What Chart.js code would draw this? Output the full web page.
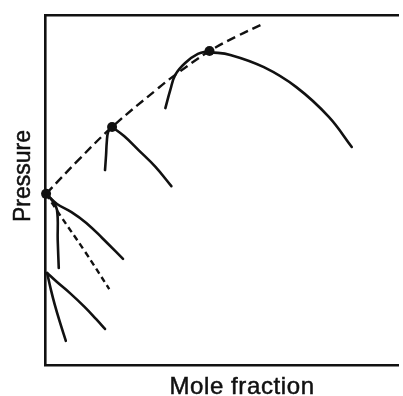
<!DOCTYPE html>
<html>
<head>
<meta charset="utf-8">
<script src="https://cdn.jsdelivr.net/npm/chart.js@4/dist/chart.umd.min.js"></script>
<style>
  html, body { margin: 0; padding: 0; background: #fff; overflow: hidden; }
  #wrap { width: 403px; height: 396px; position: relative; }
</style>
</head>
<body>
<div id="wrap"><canvas id="chart"></canvas></div>
<script>
// Axis titles
const xTitle = 'Mole fraction';
const yTitle = 'Pressure';

// Critical locus (dashed), upper part through the three critical points
const locusUpperX = [0.3, 9.5, 19.0, 32.1, 36.9, 46.6, 54.5, 62.3];
const locusUpperY = [48.9, 58.6, 68.0, 79.1, 82.9, 89.7, 94.0, 97.7];
// Critical locus (dashed), short lower branch
const locusLowerX = [0.3, 4.2, 11.2, 18.2];
const locusLowerY = [48.9, 42.9, 32.6, 21.7];

// Critical points
const critX = [0.3, 19.0, 46.6];
const critY = [48.9, 68.0, 89.7];

// Envelope at the highest critical point
const env3RightX = [46.9, 52.5, 62.0, 71.2, 80.4, 86.9];
const env3RightY = [89.4, 88.6, 85.1, 79.4, 70.9, 62.3];
const env3LeftX = [46.6, 43.3, 39.7, 36.9, 35.5, 34.1];
const env3LeftY = [89.7, 88.9, 86.3, 82.9, 78.6, 73.4];

// Envelope at the middle critical point
const env2RightX = [19.0, 22.4, 26.5, 31.3, 35.8];
const env2RightY = [68.0, 65.4, 61.4, 56.6, 51.1];
const env2LeftX = [19.0, 17.9, 17.5, 17.3, 17.0];
const env2LeftY = [68.0, 66.6, 63.7, 60.0, 55.7];

// Envelope at the pure-component point on the axis
const env1SteepX = [0.3, 2.0, 3.4, 3.6, 3.9];
const env1SteepY = [48.9, 47.1, 44.3, 35.7, 27.7];
const env1CurveX = [0.3, 3.4, 7.5, 11.7, 16.2, 22.1];
const env1CurveY = [48.9, 46.0, 43.7, 40.6, 36.3, 30.3];

// Lowest pair of curves leaving the axis
const env0CurveX = [0.6, 3.4, 7.0, 11.2, 14.5, 17.0];
const env0CurveY = [26.3, 23.7, 20.6, 16.6, 13.1, 10.3];
const env0SteepX = [0.6, 1.7, 2.8, 4.2, 5.9];
const env0SteepY = [26.3, 21.4, 17.1, 12.3, 6.9];

const ink = '#111';

function pts(xs, ys) {
  return xs.map((x, i) => ({ x: x, y: ys[i] }));
}

function solid(xs, ys) {
  return {
    data: pts(xs, ys),
    showLine: true,
    borderColor: ink,
    borderWidth: 2.6,
    borderCapStyle: 'round',
    borderJoinStyle: 'round',
    pointRadius: 0,
    tension: 0.4,
    fill: false,
    clip: false
  };
}

function dashed(xs, ys, dash) {
  return {
    data: pts(xs, ys),
    showLine: true,
    borderColor: ink,
    borderWidth: 2.4,
    borderDash: dash,
    pointRadius: 0,
    tension: 0.4,
    fill: false,
    clip: false
  };
}

// Axis titles drawn with a little letter spacing and a light outline
const axisTitles = {
  id: 'axisTitles',
  afterDraw(chart) {
    const { ctx, chartArea } = chart;
    ctx.save();
    ctx.fillStyle = ink;
    ctx.strokeStyle = ink;
    ctx.lineWidth = 0.5;
    ctx.textAlign = 'center';
    ctx.textBaseline = 'alphabetic';

    ctx.font = '24px "Liberation Sans", Arial, Helvetica, sans-serif';
    if ('letterSpacing' in ctx) ctx.letterSpacing = '0.6px';
    ctx.fillText(xTitle, chartArea.left + 197, chartArea.bottom + 29);
    ctx.strokeText(xTitle, chartArea.left + 197, chartArea.bottom + 29);

    ctx.translate(chartArea.left - 15, chartArea.top + 161);
    ctx.rotate(-Math.PI / 2);
    ctx.font = '23px "Liberation Sans", Arial, Helvetica, sans-serif';
    if ('letterSpacing' in ctx) ctx.letterSpacing = '0px';
    ctx.fillText(yTitle, 0, 0);
    ctx.strokeText(yTitle, 0, 0);
    ctx.restore();
  }
};

const hiddenAxis = (position) => ({
  type: 'linear',
  position: position,
  min: 0,
  max: 100,
  grid: { display: false, drawTicks: false, tickLength: 0 },
  ticks: { display: false },
  border: { display: true, color: ink, width: 2.6 },
  title: { display: false }
});

new Chart(document.getElementById('chart'), {
  type: 'scatter',
  data: {
    datasets: [
      dashed(locusUpperX, locusUpperY, [9, 5]),
      dashed(locusLowerX, locusLowerY, [6, 4]),
      solid(env3RightX, env3RightY),
      solid(env3LeftX, env3LeftY),
      solid(env2RightX, env2RightY),
      solid(env2LeftX, env2LeftY),
      solid(env1SteepX, env1SteepY),
      solid(env1CurveX, env1CurveY),
      solid(env0CurveX, env0CurveY),
      solid(env0SteepX, env0SteepY),
      {
        data: pts(critX, critY),
        showLine: false,
        pointRadius: 5,
        pointBackgroundColor: ink,
        pointBorderColor: ink,
        pointBorderWidth: 0,
        clip: false
      }
    ]
  },
  options: {
    responsive: true,
    maintainAspectRatio: false,
    animation: false,
    layout: { padding: { left: 45, top: 15, right: 0, bottom: 31 } },
    plugins: {
      legend: { display: false },
      tooltip: { enabled: false }
    },
    events: [],
    scales: {
      x: hiddenAxis('bottom'),
      xTop: hiddenAxis('top'),
      y: hiddenAxis('left')
    }
  },
  plugins: [axisTitles]
});
</script>
</body>
</html>
